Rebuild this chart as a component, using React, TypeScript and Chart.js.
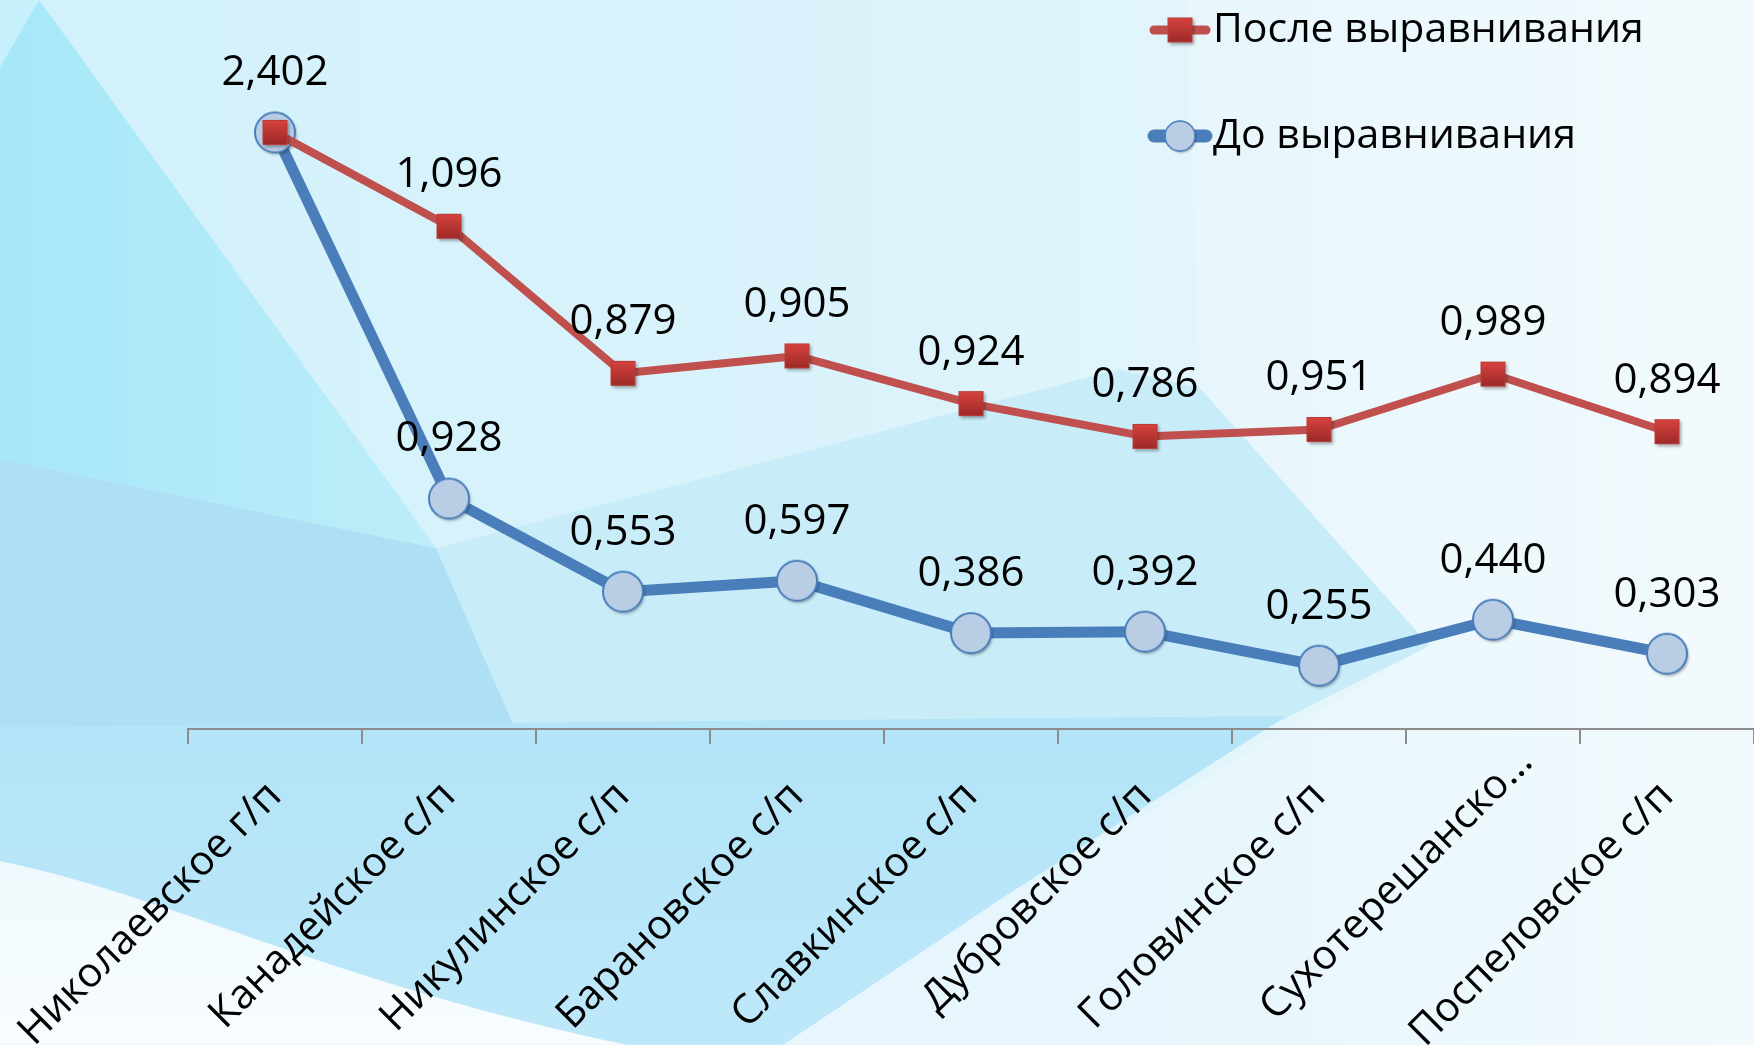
import React, { useEffect, useRef } from "react";
import { Chart, registerables } from "chart.js";

Chart.register(...registerables);

const categories = [
  "Николаевское г/п",
  "Канадейское с/п",
  "Никулинское с/п",
  "Барановское с/п",
  "Славкинское с/п",
  "Дубровское с/п",
  "Головинское с/п",
  "Сухотерешанско…",
  "Поспеловское с/п",
];
const beforeValues = [2.402, 0.928, 0.553, 0.597, 0.386, 0.392, 0.255, 0.44, 0.303];
const afterValues = [0, 1.096, 0.879, 0.905, 0.924, 0.786, 0.951, 0.989, 0.894];
const seriesNames = ["До выравнивания", "После выравнивания"];

const W = 1754;
const H = 1045;
const FONT = "'Open Sans', 'Noto Sans', sans-serif";

function makeSquare(size: number) {
  const pad = 6;
  const c = document.createElement("canvas");
  c.width = size + pad * 2;
  c.height = size + pad * 2;
  const ctx = c.getContext("2d")!;
  ctx.shadowColor = "rgba(0,0,0,0.35)";
  ctx.shadowOffsetX = 1.5;
  ctx.shadowOffsetY = 2;
  ctx.shadowBlur = 3;
  const g = ctx.createLinearGradient(0, pad, 0, pad + size);
  g.addColorStop(0, "#d8433f");
  g.addColorStop(1, "#9c2927");
  ctx.fillStyle = g;
  ctx.fillRect(pad, pad, size, size);
  ctx.shadowColor = "transparent";
  ctx.strokeStyle = "#b83c39";
  ctx.lineWidth = 1;
  ctx.strokeRect(pad + 0.5, pad + 0.5, size - 1, size - 1);
  return c;
}

function makeCircle(r: number) {
  const pad = 6;
  const c = document.createElement("canvas");
  c.width = r * 2 + pad * 2;
  c.height = r * 2 + pad * 2;
  const ctx = c.getContext("2d")!;
  const cx = c.width / 2;
  ctx.shadowColor = "rgba(0,0,0,0.35)";
  ctx.shadowOffsetX = 1.5;
  ctx.shadowOffsetY = 2;
  ctx.shadowBlur = 3;
  ctx.beginPath();
  ctx.arc(cx, cx, r - 1, 0, Math.PI * 2);
  ctx.fillStyle = "#b9cde5";
  ctx.fill();
  ctx.shadowColor = "transparent";
  ctx.lineWidth = 2;
  ctx.strokeStyle = "#4a7ebb";
  ctx.stroke();
  return c;
}

function drawBackground(ctx: CanvasRenderingContext2D, w: number, h: number) {
  const s = w / 1568;
  const poly = (pts: number[][], fill: string | CanvasGradient) => {
    ctx.beginPath();
    pts.forEach(([x, y], i) => (i ? ctx.lineTo(x * s, y * s) : ctx.moveTo(x * s, y * s)));
    ctx.closePath();
    ctx.fillStyle = fill;
    ctx.fill();
  };
  const base = ctx.createLinearGradient(0, 0, w, 0);
  base.addColorStop(0, "#d2f1fb");
  base.addColorStop(0.5, "#dbf3fb");
  base.addColorStop(1, "#eef8fc");
  ctx.fillStyle = base;
  ctx.fillRect(0, 0, w, h);
  // top-left pale cyan corner
  poly([[0, 0], [35, 0], [0, 60]], "#c6f0fb");
  // left cyan wedge
  const gA = ctx.createLinearGradient(0, 0, 400 * s, 0);
  gA.addColorStop(0, "#a6e8f8");
  gA.addColorStop(1, "#bdedf9");
  poly([[0, 60], [35, 0], [390, 490], [0, 410]], gA);
  // lower left blue
  poly([[0, 410], [390, 490], [460, 650], [0, 660]], "#addff5");
  // center cyan region
  poly([[390, 490], [1000, 330], [1073, 347], [1278, 577], [1134, 650], [460, 650]], "#c8edf8");
  // right pale area
  const gR = ctx.createLinearGradient(1000 * s, 0, w, 0);
  gR.addColorStop(0, "#e6f6fc");
  gR.addColorStop(1, "#f2fafd");
  poly([[1060, 0], [1568, 0], [1568, 934], [700, 934], [900, 800], [1278, 577], [1073, 347]], gR);
  // bottom blue band
  const gB = ctx.createLinearGradient(0, 650 * s, 0, h);
  gB.addColorStop(0, "#b3e4f7");
  gB.addColorStop(1, "#bde8f9");
  poly([[0, 650], [1150, 640], [900, 800], [700, 934], [0, 934]], gB);
  // white wave bottom-left
  const gW = ctx.createLinearGradient(0, 760 * s, 0, h);
  gW.addColorStop(0, "#eef9fd");
  gW.addColorStop(1, "#f8fcfe");
  ctx.beginPath();
  ctx.moveTo(0, 770 * s);
  ctx.bezierCurveTo(150 * s, 800 * s, 300 * s, 880 * s, 560 * s, 934 * s);
  ctx.lineTo(0, 934 * s);
  ctx.closePath();
  ctx.fillStyle = gW;
  ctx.fill();
}

export default function App() {
  const ref = useRef<HTMLCanvasElement | null>(null);

  useEffect(() => {
    document.body.style.margin = "0";
    const canvas = ref.current!;
    const square = makeSquare(25);
    const circle = makeCircle(21);
    let drawingTop = false;

    const plugin = {
      id: "custom",
      beforeDraw(chart: any) {
        drawBackground(chart.ctx, chart.width, chart.height);
        // Excel places the truncated label further along its own direction
        const xs = chart.scales.x;
        const items = xs.getLabelItems(chart.chartArea);
        items.forEach((it: any) => {
          if (typeof it.label === "string" && it.label.endsWith("…")) {
            it.options.translation = [it.options.translation[0] + 33, it.options.translation[1] - 34];
          }
        });
      },
      beforeDatasetDraw(chart: any, args: any) {
        if (args.index === 1 && !drawingTop) return false;
      },
      afterDatasetsDraw(chart: any) {
        const ctx = chart.ctx;
        drawingTop = true;
        const meta = chart.getDatasetMeta(1);
        ctx.save();
        meta.controller.draw();
        ctx.restore();
        drawingTop = false;
        // data labels
        ctx.save();
        ctx.font = `42px ${FONT}`;
        ctx.fillStyle = "#000";
        ctx.textAlign = "center";
        ctx.textBaseline = "middle";
        const offsets = [59, 51];
        chart.data.datasets.forEach((ds: any, di: number) => {
          const m = chart.getDatasetMeta(di);
          m.data.forEach((pt: any, i: number) => {
            const v = ds.data[i];
            if (!v) return;
            ctx.fillText(v.toFixed(3).replace(".", ","), pt.x, pt.y - offsets[di]);
          });
        });
        ctx.restore();
      },
      afterDraw(chart: any) {
        const ctx = chart.ctx;
        ctx.save();
        const items = [
          { ds: chart.data.datasets[1], y: 30, img: square, lw: 9 },
          { ds: chart.data.datasets[0], y: 136, img: circle, lw: 13 },
        ];
        items.forEach((it) => {
          ctx.strokeStyle = it.ds.borderColor;
          ctx.lineWidth = it.lw;
          ctx.lineCap = "round";
          ctx.beginPath();
          ctx.moveTo(1154, it.y);
          ctx.lineTo(1206, it.y);
          ctx.stroke();
          const sc = it.img === circle ? 0.75 : 1;
          const iw = it.img.width * sc;
          const ih = it.img.height * sc;
          ctx.drawImage(it.img, 1180 - iw / 2, it.y - ih / 2, iw, ih);
          ctx.font = `41px ${FONT}`;
          ctx.fillStyle = "#000";
          ctx.textAlign = "left";
          ctx.textBaseline = "middle";
          ctx.fillText(it.ds.label, 1213, it.y);
        });
        ctx.restore();
      },
    };

    const chart = new Chart(canvas, {
      type: "line",
      data: {
        labels: categories,
        datasets: [
          {
            label: seriesNames[0],
            data: beforeValues,
            borderColor: "#4a7ebb",
            borderWidth: 11,
            pointStyle: circle as any,
            pointRadius: 21,
            borderJoinStyle: "round",
            tension: 0,
            clip: false as any,
          },
          {
            label: seriesNames[1],
            data: afterValues,
            borderColor: "#c0504d",
            borderWidth: 8,
            pointStyle: square as any,
            pointRadius: 14,
            borderJoinStyle: "round",
            tension: 0,
            clip: false as any,
          },
        ],
      },
      options: {
        responsive: false,
        animation: false,
        events: [],
        layout: { autoPadding: false, padding: { left: 188, right: 0, top: 0, bottom: 0 } },
        plugins: { legend: { display: false }, tooltip: { enabled: false } },
        scales: {
          y: { stacked: true, min: 0, max: 2.935, display: false },
          x: {
            offset: true,
            grid: {
              display: true,
              offset: true,
              drawOnChartArea: false,
              drawTicks: true,
              tickLength: 15,
              color: "#8c8c8c",
              lineWidth: 2,
            },
            border: { display: true, color: "#8c8c8c", width: 2 },
            ticks: {
              autoSkip: false,
              maxRotation: 45,
              minRotation: 45,
              padding: 28,
              color: "#000",
              font: { family: FONT, size: 41 },
            },
            afterFit(scale: any) {
              scale.height = H - 729;
              scale.paddingLeft = 0;
              scale.paddingRight = 0;
            },
          },
        },
      },
      plugins: [plugin],
    });
    return () => chart.destroy();
  }, []);

  return <canvas ref={ref} width={W} height={H} style={{ display: "block" }} />;
}
